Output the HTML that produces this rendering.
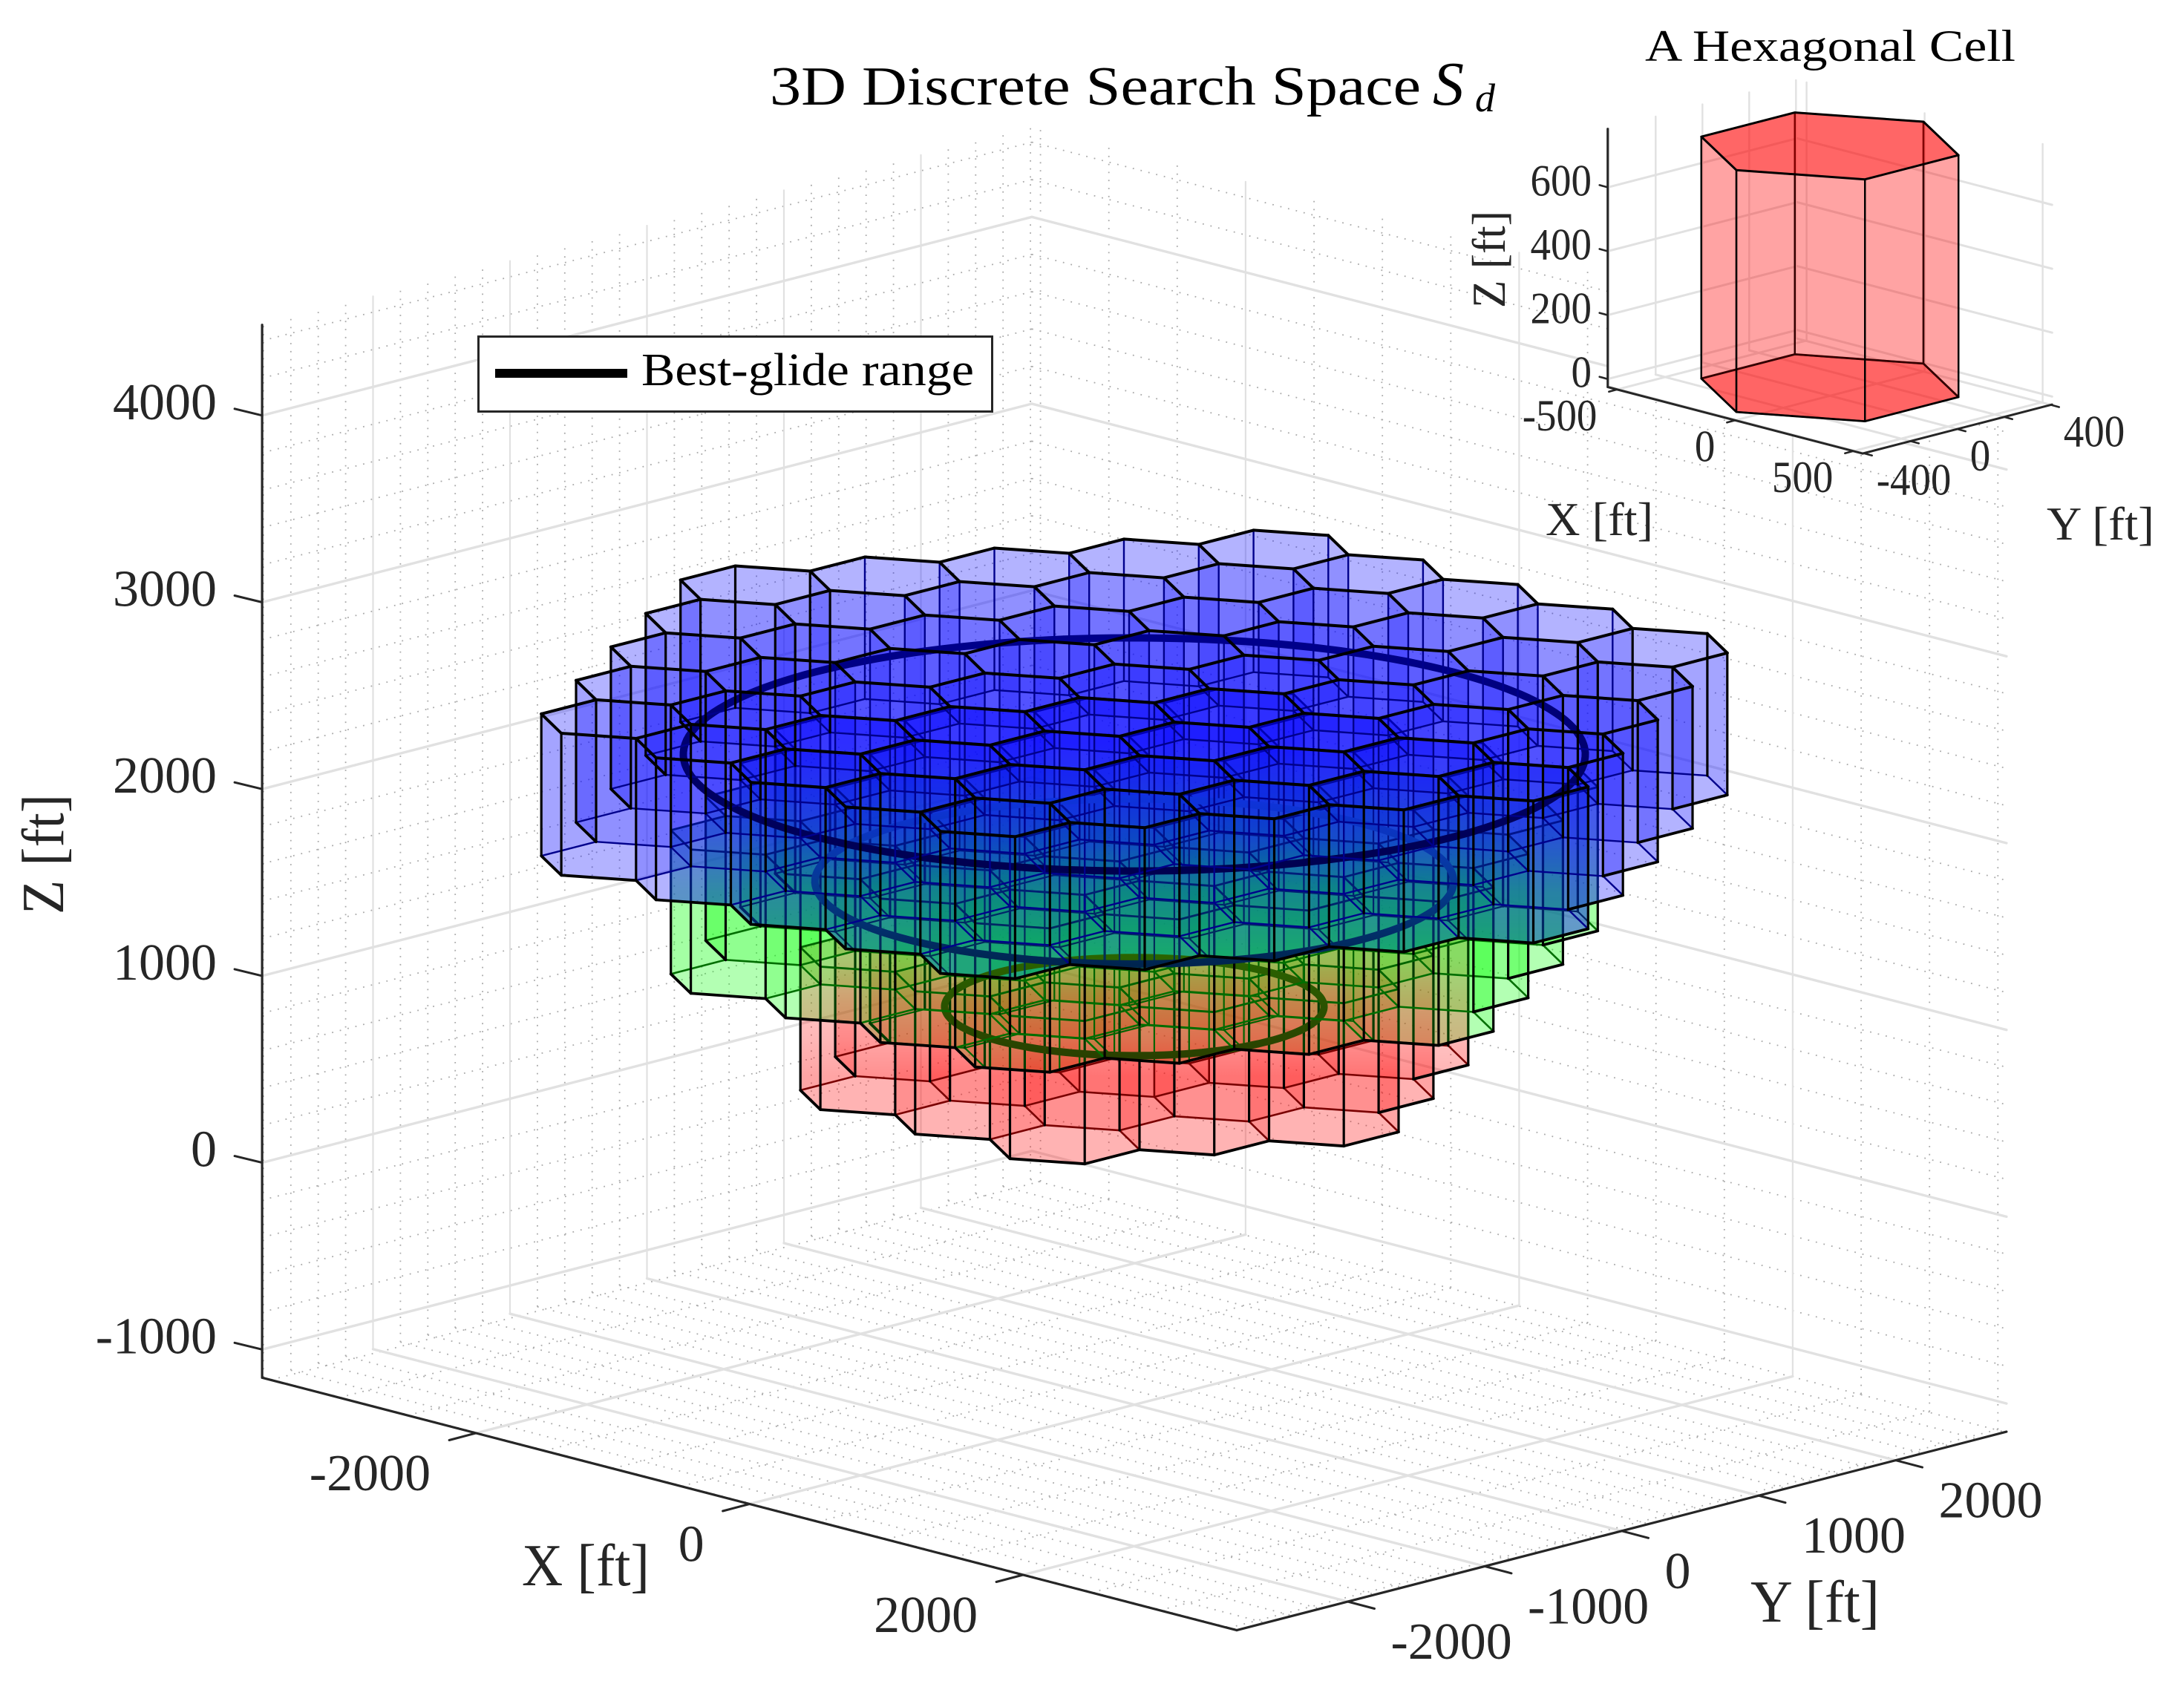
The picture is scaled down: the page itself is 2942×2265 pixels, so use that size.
<!DOCTYPE html>
<html lang="en">
<head>
<meta charset="utf-8">
<title>3D Discrete Search Space</title>
<style>
html,body{margin:0;padding:0;background:#fff}
svg{display:block}
text{font-family:"Liberation Serif",serif;fill:#262626}
</style>
</head>
<body>
<svg id="fig" xmlns="http://www.w3.org/2000/svg" width="2942" height="2265" viewBox="0 0 2942 2265">
  <defs>
    <linearGradient id="greenFadeGrad" gradientUnits="userSpaceOnUse" x1="0" y1="1000" x2="0" y2="1290">
      <stop offset="0" stop-color="#000"/>
      <stop offset="0.45" stop-color="#4d4d4d"/>
      <stop offset="0.69" stop-color="#999"/>
      <stop offset="1" stop-color="#d1d1d1"/>
    </linearGradient>
    <linearGradient id="redFadeGrad" gradientUnits="userSpaceOnUse" x1="0" y1="1290" x2="0" y2="1450">
      <stop offset="0" stop-color="#666"/>
      <stop offset="0.375" stop-color="#a6a6a6"/>
      <stop offset="0.69" stop-color="#cccccc"/>
      <stop offset="1" stop-color="#fff"/>
    </linearGradient>
    <linearGradient id="underBlueStroke" gradientUnits="userSpaceOnUse" x1="0" y1="1000" x2="0" y2="1290">
      <stop offset="0" stop-color="#0000b4"/>
      <stop offset="1" stop-color="#002f55"/>
    </linearGradient>
    <linearGradient id="ringTopStroke" gradientUnits="userSpaceOnUse" x1="0" y1="860" x2="0" y2="1170">
      <stop offset="0" stop-color="#00008c"/>
      <stop offset="1" stop-color="#000050"/>
    </linearGradient>
    <linearGradient id="ringMidStroke" gradientUnits="userSpaceOnUse" x1="0" y1="1070" x2="0" y2="1300">
      <stop offset="0" stop-color="#0f32e0"/>
      <stop offset="0.57" stop-color="#043a8c"/>
      <stop offset="1" stop-color="#00254f"/>
    </linearGradient>
    <linearGradient id="ringLowStroke" gradientUnits="userSpaceOnUse" x1="0" y1="1290" x2="0" y2="1425">
      <stop offset="0" stop-color="#2a6400"/>
      <stop offset="1" stop-color="#2a4000"/>
    </linearGradient>
    <mask id="greenFadeMask" maskUnits="userSpaceOnUse" x="0" y="0" width="2942" height="2265">
      <rect x="0" y="0" width="2942" height="2265" fill="url(#greenFadeGrad)"/>
    </mask>
    <mask id="redFadeMask" maskUnits="userSpaceOnUse" x="0" y="0" width="2942" height="2265">
      <rect x="0" y="0" width="2942" height="2265" fill="url(#redFadeGrad)"/>
    </mask>
    <mask id="outsideBlueMask" maskUnits="userSpaceOnUse" x="0" y="0" width="2942" height="2265">
      <rect x="0" y="0" width="2942" height="2265" fill="#fff"/>
    </mask>
    <mask id="outsideGreenMask" maskUnits="userSpaceOnUse" x="0" y="0" width="2942" height="2265">
      <rect x="0" y="0" width="2942" height="2265" fill="#fff"/>
    </mask>
    <clipPath id="blueClip"></clipPath>
    <clipPath id="greenClip"></clipPath>
  </defs>
  <rect x="0" y="0" width="2942" height="2265" fill="#fff"/>
  <g id="main-grid"></g>
  <g id="main-cells"></g>
  <g id="main-axes"></g>
  <g id="main-labels"></g>

  <text x="1037" y="141" font-size="74" textLength="877" lengthAdjust="spacingAndGlyphs" style="fill:#000">3D Discrete Search Space</text>
  <text x="1930" y="141" font-size="84" font-style="italic" style="fill:#000">S</text>
  <text x="1987" y="150" font-size="54" font-style="italic" style="fill:#000">d</text>

  <text x="703" y="2136" font-size="80" textLength="172" lengthAdjust="spacingAndGlyphs">X [ft]</text>
  <text x="2358" y="2185" font-size="80" textLength="174" lengthAdjust="spacingAndGlyphs">Y [ft]</text>
  <text transform="translate(85,1232) rotate(-90)" font-size="80" textLength="162" lengthAdjust="spacingAndGlyphs">Z [ft]</text>

  <g>
    <rect x="644.5" y="453.5" width="692" height="101" fill="#fff" stroke="#262626" stroke-width="3"/>
    <line x1="667" y1="503" x2="845" y2="503" stroke="#000" stroke-width="12"/>
    <text x="864" y="519" font-size="62" textLength="448" lengthAdjust="spacingAndGlyphs" style="fill:#000">Best-glide range</text>
  </g>

  <polygon id="inset-bg" fill="#fff"/>
  <g id="inset-grid"></g>
  <g id="inset-cell"></g>
  <g id="inset-axes"></g>
  <g id="inset-labels"></g>

  <text x="2216" y="82" font-size="60" textLength="499" lengthAdjust="spacingAndGlyphs" style="fill:#000">A Hexagonal Cell</text>
  <text x="2082" y="721" font-size="64" textLength="145" lengthAdjust="spacingAndGlyphs">X [ft]</text>
  <text x="2757" y="727" font-size="64" textLength="145" lengthAdjust="spacingAndGlyphs">Y [ft]</text>
  <text transform="translate(2027,415) rotate(-90)" font-size="64" textLength="131" lengthAdjust="spacingAndGlyphs">Z [ft]</text>
</svg>
<script>
// ---- main chart data ----
const xTicks = [-2000, 0, 2000];
const yTicks = [-2000, -1000, 0, 1000, 2000];
const zTicks = [-1000, 0, 1000, 2000, 3000, 4000];
const xLimits = [-3563, 3563];
const yLimits = [-2810, 2810];
const zLimits = [-1151, 4485];
const xMinorStep = 500;
const yMinorStep = 200;
const zMinorStep = 200;
const layerNames = ['red', 'green', 'blue'];
const layerBottoms = [600, 1270, 1950];
const layerTops = [1365, 2040, 2710];
const layerRingCounts = [2, 3, 4];
const rangeRadii = [980, 1650, 2330];
const rangeHeights = [980, 1650, 2330];
const cellEdge = 400;
// ---- inset chart data ----
const insetXTicks = [-500, 0, 500];
const insetYTicks = [-400, -200, 0, 200, 400];
const insetYLabelled = [-400, 0, 400];
const insetZTicks = [0, 200, 400, 600];
const insetXLimits = [-540, 540];
const insetYLimits = [-405, 405];
const insetZLimits = [-25, 783];
const insetCellBottom = 0;
const insetCellTop = 757;

const NS = 'http://www.w3.org/2000/svg';
const byId = function (id) { return document.getElementById(id); };
const fillColor = { red: '#ff0000', green: '#00ff00', blue: '#0000ff' };
const WALL_ALPHA = 0.2;
const CAP_ALPHA = 0.125;

function mainP(X, Y, Z) {
  return [1528 + 0.18425 * X + 0.1845 * Y, 1603 + 0.04775 * X - 0.0476 * Y - 0.2517 * Z];
}
function insetP(X, Y, Z) {
  return [2465 + 0.318 * X + 0.315 * Y, 522.5 + 0.083 * X - 0.0815 * Y - 0.4305 * Z];
}
function make(tag, attrs) {
  const e = document.createElementNS(NS, tag);
  for (const k in attrs) e.setAttribute(k, attrs[k]);
  return e;
}
function segment(parent, a, b, stroke, width, dash) {
  const e = make('line', { x1: a[0].toFixed(1), y1: a[1].toFixed(1), x2: b[0].toFixed(1), y2: b[1].toFixed(1), stroke: stroke, 'stroke-width': width, 'stroke-linecap': 'round' });
  if (dash) {
    e.setAttribute('stroke-dasharray', dash);
    e.setAttribute('stroke-linecap', 'butt');
  }
  parent.appendChild(e);
  return e;
}
function stepValues(lim, step) {
  const out = [];
  for (let v = Math.ceil(lim[0] / step) * step; v <= lim[1]; v += step) out.push(v);
  return out;
}
function drawGrid(parent, P, xs, ys, zs, xl, yl, zl, stroke, widths, dash, kind) {
  xs.forEach(function (X) {
    const floorLine = segment(parent, P(X, yl[0], zl[0]), P(X, yl[1], zl[0]), stroke, widths[0], dash);
    
    
    const wallLine = segment(parent, P(X, yl[1], zl[0]), P(X, yl[1], zl[1]), stroke, widths[1], dash);
    
    
  });
  ys.forEach(function (Y) {
    const floorLine = segment(parent, P(xl[0], Y, zl[0]), P(xl[1], Y, zl[0]), stroke, widths[0], dash);
    
    
    const wallLine = segment(parent, P(xl[0], Y, zl[0]), P(xl[0], Y, zl[1]), stroke, widths[1], dash);
    
    
  });
  zs.forEach(function (Z) {
    const leftLine = segment(parent, P(xl[0], yl[0], Z), P(xl[0], yl[1], Z), stroke, widths[0], dash);
    
    
    const rightLine = segment(parent, P(xl[0], yl[1], Z), P(xl[1], yl[1], Z), stroke, widths[0], dash);
    
    
  });
}
function hexCorners(cx, cy, edge) {
  const a = edge * Math.sqrt(3) / 2, h = edge / 2;
  return [[cx - a, cy - h], [cx - a, cy + h], [cx, cy + edge], [cx + a, cy + h], [cx + a, cy - h], [cx, cy - edge]];
}
function pointsOf(list) {
  return list.map(function (p) { return p[0].toFixed(1) + ',' + p[1].toFixed(1); }).join(' ');
}
function keyOf(X, Y) {
  return Math.round(X) + '_' + Math.round(Y);
}
function layerCells(rings, edge) {
  const a = edge * Math.sqrt(3), dy = edge * 1.5, out = [];
  for (let j = -rings; j <= rings; j++) {
    const n = 2 * rings + 1 - Math.abs(j);
    for (let i = 0; i < n; i++) {
      out.push([(i - (n - 1) / 2) * a, j * dy]);
    }
  }
  return out;
}
// Work out unique walls, corner posts and which of them sit on the camera-facing boundary.
function layerGeometry(li) {
  const cells = layerCells(layerRingCounts[li], cellEdge);
  const present = {};
  cells.forEach(function (c) { present[keyOf(c[0], c[1])] = true; });
  const walls = {}, posts = {};
  cells.forEach(function (c) {
    const hex = hexCorners(c[0], c[1], cellEdge);
    let frontCell = false;
    [3, 4, 5].forEach(function (i) {
      const p = hex[i], q = hex[(i + 1) % 6];
      if (!present[keyOf(p[0] + q[0] - c[0], p[1] + q[1] - c[1])]) frontCell = true;
    });
    hex.forEach(function (p, i) {
      const q = hex[(i + 1) % 6];
      const mx = (p[0] + q[0]) / 2, my = (p[1] + q[1]) / 2;
      const k = keyOf(mx, my);
      const open = !present[keyOf(p[0] + q[0] - c[0], p[1] + q[1] - c[1])];
      if (!walls[k]) walls[k] = { p: p, q: q, depth: mx - my, front: false };
      if (open && i >= 3) walls[k].front = true;
      const pk = keyOf(p[0], p[1]);
      if (!posts[pk]) posts[pk] = { p: p, front: false };
      if (frontCell) posts[pk].front = true;
    });
  });
  const wallList = Object.keys(walls).map(function (k) { return walls[k]; });
  wallList.sort(function (a, b) { return a.depth - b.depth; });
  return { cells: cells, walls: wallList, posts: Object.keys(posts).map(function (k) { return posts[k]; }) };
}
function silhouettePoints(c, zb, zt) {
  const h = hexCorners(c[0], c[1], cellEdge);
  return [
    mainP(h[0][0], h[0][1], zt), mainP(h[1][0], h[1][1], zt), mainP(h[2][0], h[2][1], zt), mainP(h[3][0], h[3][1], zt),
    mainP(h[3][0], h[3][1], zb), mainP(h[4][0], h[4][1], zb), mainP(h[5][0], h[5][1], zb), mainP(h[0][0], h[0][1], zb)
  ];
}
function addFills(parent, li, tint) {
  const name = layerNames[li], geo = layerGeometry(li), color = tint || fillColor[name];
  const zb = layerBottoms[li], zt = layerTops[li];
  geo.cells.forEach(function (c) {
    const pts = hexCorners(c[0], c[1], cellEdge).map(function (v) { return mainP(v[0], v[1], zb); });
    const f = make('polygon', { points: pointsOf(pts), fill: color, 'fill-opacity': CAP_ALPHA });
    
    
    parent.appendChild(f);
  });
  geo.walls.forEach(function (w) {
    const pts = [mainP(w.p[0], w.p[1], zb), mainP(w.q[0], w.q[1], zb), mainP(w.q[0], w.q[1], zt), mainP(w.p[0], w.p[1], zt)];
    const f = make('polygon', { points: pointsOf(pts), fill: color, 'fill-opacity': WALL_ALPHA });
    
    
    parent.appendChild(f);
  });
  geo.cells.forEach(function (c) {
    const pts = hexCorners(c[0], c[1], cellEdge).map(function (v) { return mainP(v[0], v[1], zt); });
    const f = make('polygon', { points: pointsOf(pts), fill: color, 'fill-opacity': CAP_ALPHA });
    
    
    parent.appendChild(f);
  });
}
function addEdges(parent, li, backInk, frontInk, topInk, backWidth) {
  const name = layerNames[li], geo = layerGeometry(li);
  const zb = layerBottoms[li], zt = layerTops[li];
  geo.walls.forEach(function (w) {
    if (w.front) return;
    const e = segment(parent, mainP(w.p[0], w.p[1], zb), mainP(w.q[0], w.q[1], zb), backInk, backWidth);
    
    
  });
  geo.posts.forEach(function (v) {
    if (v.front) return;
    const e = segment(parent, mainP(v.p[0], v.p[1], zb), mainP(v.p[0], v.p[1], zt), backInk, backWidth);
    
    
  });
  geo.posts.forEach(function (v) {
    if (!v.front) return;
    const e = segment(parent, mainP(v.p[0], v.p[1], zb), mainP(v.p[0], v.p[1], zt), frontInk, 3.2);
    
    
  });
  geo.walls.forEach(function (w) {
    if (!w.front) return;
    const e = segment(parent, mainP(w.p[0], w.p[1], zb), mainP(w.q[0], w.q[1], zb), frontInk, 3.8);
    
    
  });
  geo.walls.forEach(function (w) {
    const e = segment(parent, mainP(w.p[0], w.p[1], zt), mainP(w.q[0], w.q[1], zt), topInk, li === 2 ? 4 : backWidth + 0.6);
    
    
  });
}
function addRing(parent, li, ink) {
  const pts = [];
  for (let k = 0; k < 180; k++) {
    const t = k / 180 * 2 * Math.PI;
    pts.push(mainP(rangeRadii[li] * Math.cos(t), rangeRadii[li] * Math.sin(t), rangeHeights[li]));
  }
  const ring = make('polygon', { points: pointsOf(pts), fill: 'none', stroke: ink, 'stroke-width': 10, 'stroke-linejoin': 'round' });
  
  
  parent.appendChild(ring);
}
function maskedGroup(parent, attrs, name) {
  const g = make('g', attrs);
  
  
  parent.appendChild(g);
  return g;
}

// ---- main grid ----
const mainGrid = byId('main-grid');
drawGrid(mainGrid, mainP, stepValues(xLimits, xMinorStep).filter(function (v) { return xTicks.indexOf(v) < 0; }),
  stepValues(yLimits, yMinorStep).filter(function (v) { return yTicks.indexOf(v) < 0; }),
  stepValues(zLimits, zMinorStep).filter(function (v) { return zTicks.indexOf(v) < 0; }),
  xLimits, yLimits, zLimits, '#aaa', [1.8, 1.8], '1.8 9', 'minor');
drawGrid(mainGrid, mainP, xTicks, yTicks, zTicks, xLimits, yLimits, zLimits, '#e1e1e1', [3.4, 2.2], null, 'major');

// ---- silhouettes used for clipping ----
layerCells(layerRingCounts[2], cellEdge).forEach(function (c) {
  const s = pointsOf(silhouettePoints(c, layerBottoms[2], layerTops[2]));
  byId('blueClip').appendChild(make('polygon', { points: s }));
  byId('outsideBlueMask').appendChild(make('polygon', { points: s, fill: '#000' }));
});
layerCells(layerRingCounts[1], cellEdge).forEach(function (c) {
  const s = pointsOf(silhouettePoints(c, layerBottoms[1], layerTops[1]));
  byId('greenClip').appendChild(make('polygon', { points: s }));
  byId('outsideGreenMask').appendChild(make('polygon', { points: s, fill: '#000' }));
});

// ---- main cells: fills ----
const cellsGroup = byId('main-cells');
const outerFills = maskedGroup(cellsGroup, { mask: 'url(#outsideBlueMask)' }, 'fills-below-blue-layer');
addFills(maskedGroup(outerFills, {}, 'green-layer-fills'), 1);
addFills(maskedGroup(outerFills, { mask: 'url(#redFadeMask)' }, 'red-layer-fills'), 0);
const innerFills = maskedGroup(cellsGroup, { 'clip-path': 'url(#blueClip)' }, 'fills-in-blue-layer');
addFills(maskedGroup(innerFills, {}, 'green-layer-behind-blue'), 1, '#0000ff');
addFills(maskedGroup(innerFills, {}, 'blue-layer-fills'), 2);
addFills(maskedGroup(innerFills, { mask: 'url(#greenFadeMask)' }, 'green-layer-tint'), 1);

// ---- main cells: edges and rings ----
const redOuter = maskedGroup(maskedGroup(cellsGroup, { mask: 'url(#outsideBlueMask)' }, 'red-edges-clear-of-blue'), { mask: 'url(#outsideGreenMask)' }, 'red-edges-clear-of-green');
addEdges(redOuter, 0, '#7a0000', '#000', '#7a0000', 2.6);
const redUnder = maskedGroup(maskedGroup(cellsGroup, { mask: 'url(#outsideBlueMask)' }, 'red-edges-under-green-wrap'), { 'clip-path': 'url(#greenClip)' }, 'red-edges-under-green');
addEdges(redUnder, 0, '#006400', '#003c00', '#006400', 2.2);
addRing(cellsGroup, 0, 'url(#ringLowStroke)');
addEdges(maskedGroup(cellsGroup, { mask: 'url(#outsideBlueMask)' }, 'green-edges-clear-of-blue'), 1, '#006e00', '#000', '#005000', 2.6);
addEdges(maskedGroup(cellsGroup, { 'clip-path': 'url(#blueClip)' }, 'green-edges-under-blue'), 1, 'url(#underBlueStroke)', 'url(#underBlueStroke)', 'url(#underBlueStroke)', 2.2);
addRing(cellsGroup, 1, 'url(#ringMidStroke)');
addRing(cellsGroup, 2, 'url(#ringTopStroke)');
addEdges(maskedGroup(cellsGroup, {}, 'blue-edges'), 2, '#00008c', '#000', '#000', 2.4);

// ---- main axes and ticks ----
const mainAxes = byId('main-axes');
const mainLabels = byId('main-labels');
const axisInk = '#262626';
const axisX = segment(mainAxes, mainP(xLimits[0], yLimits[0], zLimits[0]), mainP(xLimits[1], yLimits[0], zLimits[0]), axisInk, 3.2);


const axisY = segment(mainAxes, mainP(xLimits[1], yLimits[0], zLimits[0]), mainP(xLimits[1], yLimits[1], zLimits[0]), axisInk, 3.2);


const axisZ = segment(mainAxes, mainP(xLimits[0], yLimits[0], zLimits[0]), mainP(xLimits[0], yLimits[0], zLimits[1]), axisInk, 3.2);



function label(parent, x, y, text, anchor, size, digitWidth) {
  const e = make('text', { x: x.toFixed(1), y: y.toFixed(1), 'text-anchor': anchor, 'font-size': size });
  e.textContent = text;
  if (digitWidth) {
    const digits = text.replace('-', '').length;
    const w = digits * digitWidth + (text.charAt(0) === '-' ? digitWidth * 0.66 : 0);
    e.setAttribute('textLength', w.toFixed(1));
    e.setAttribute('lengthAdjust', 'spacingAndGlyphs');
  }
  parent.appendChild(e);
  return e;
}
xTicks.forEach(function (v) {
  const p = mainP(v, yLimits[0], zLimits[0]);
  const t = segment(mainAxes, p, [p[0] - 36, p[1] + 9.5], axisInk, 3);
  
  
  const l = label(mainLabels, p[0] - 61, p[1] + 77, String(v), 'end', 70);
  
  
});
yTicks.forEach(function (v) {
  const p = mainP(xLimits[1], v, zLimits[0]);
  const t = segment(mainAxes, p, [p[0] + 36, p[1] + 9.5], axisInk, 3);
  
  
  const l = label(mainLabels, p[0] + 58, p[1] + 77, String(v), 'start', 70);
  
  
});
zTicks.forEach(function (v) {
  const p = mainP(xLimits[0], yLimits[0], v);
  const t = segment(mainAxes, p, [p[0] - 37, p[1] - 9], axisInk, 3);
  
  
  const l = label(mainLabels, 292, p[1] + 5, String(v), 'end', 70);
  
  
});

// ---- inset ----
const insetCornerPts = [
  insetP(insetXLimits[0], insetYLimits[0], insetZLimits[0]),
  insetP(insetXLimits[0], insetYLimits[0], insetZLimits[1]),
  insetP(insetXLimits[0], insetYLimits[1], insetZLimits[1]),
  insetP(insetXLimits[1], insetYLimits[1], insetZLimits[1]),
  insetP(insetXLimits[1], insetYLimits[1], insetZLimits[0]),
  insetP(insetXLimits[1], insetYLimits[0], insetZLimits[0])
];
byId('inset-bg').setAttribute('points', pointsOf(insetCornerPts));
drawGrid(byId('inset-grid'), insetP, insetXTicks, insetYTicks, insetZTicks, insetXLimits, insetYLimits, insetZLimits, '#e1e1e1', [3, 2.4], null, 'inset');

function insetFace(parent, pts, alpha, lw) {
  const e = make('polygon', { points: pointsOf(pts), fill: '#ff0000', 'fill-opacity': alpha, stroke: '#000', 'stroke-width': lw, 'stroke-linejoin': 'round' });
  parent.appendChild(e);
  return e;
}
const insetCell = byId('inset-cell');
const insetHex = hexCorners(0, 0, cellEdge);
const insetBase = insetFace(insetCell, insetHex.map(function (v) { return insetP(v[0], v[1], insetCellBottom); }), 0.5, 2.8);


[0, 1, 2, 3, 4, 5].forEach(function (i) {
  const p = insetHex[i], q = insetHex[(i + 1) % 6];
  const f = insetFace(insetCell, [insetP(p[0], p[1], insetCellBottom), insetP(q[0], q[1], insetCellBottom), insetP(q[0], q[1], insetCellTop), insetP(p[0], p[1], insetCellTop)], 0.2, 2.4);
  
  
});
const insetTop = insetFace(insetCell, insetHex.map(function (v) { return insetP(v[0], v[1], insetCellTop); }), 0.5, 3);



const insetAxes = byId('inset-axes');
const insetLabels = byId('inset-labels');
const inX = segment(insetAxes, insetP(insetXLimits[0], insetYLimits[0], insetZLimits[0]), insetP(insetXLimits[1], insetYLimits[0], insetZLimits[0]), axisInk, 3);


const inY = segment(insetAxes, insetP(insetXLimits[1], insetYLimits[0], insetZLimits[0]), insetP(insetXLimits[1], insetYLimits[1], insetZLimits[0]), axisInk, 3);


const inZ = segment(insetAxes, insetP(insetXLimits[0], insetYLimits[0], insetZLimits[0]), insetP(insetXLimits[0], insetYLimits[0], insetZLimits[1]), axisInk, 3);



insetXTicks.forEach(function (v) {
  const p = insetP(v, insetYLimits[0], insetZLimits[0]);
  const t = segment(insetAxes, p, [p[0] - 11, p[1] + 3], axisInk, 2.6);
  
  
  const l = label(insetLabels, p[0] - 27, p[1] + 55, String(v), 'end', 60, 27.5);
  
  
});
insetYTicks.forEach(function (v) {
  const p = insetP(insetXLimits[1], v, insetZLimits[0]);
  const t = segment(insetAxes, p, [p[0] + 11, p[1] + 3], axisInk, 2.6);
  
  
});
insetYLabelled.forEach(function (v) {
  const p = insetP(insetXLimits[1], v, insetZLimits[0]);
  const l = label(insetLabels, p[0] + 17, p[1] + 56, String(v), 'start', 60, 27.5);
  
  
});
insetZTicks.forEach(function (v) {
  const p = insetP(insetXLimits[0], insetYLimits[0], v);
  const t = segment(insetAxes, p, [p[0] - 11, p[1] - 3], axisInk, 2.6);
  
  
  const l = label(insetLabels, 2144, p[1] + 11, String(v), 'end', 60, 27.5);
  
  
});
</script>
</body>
</html>
